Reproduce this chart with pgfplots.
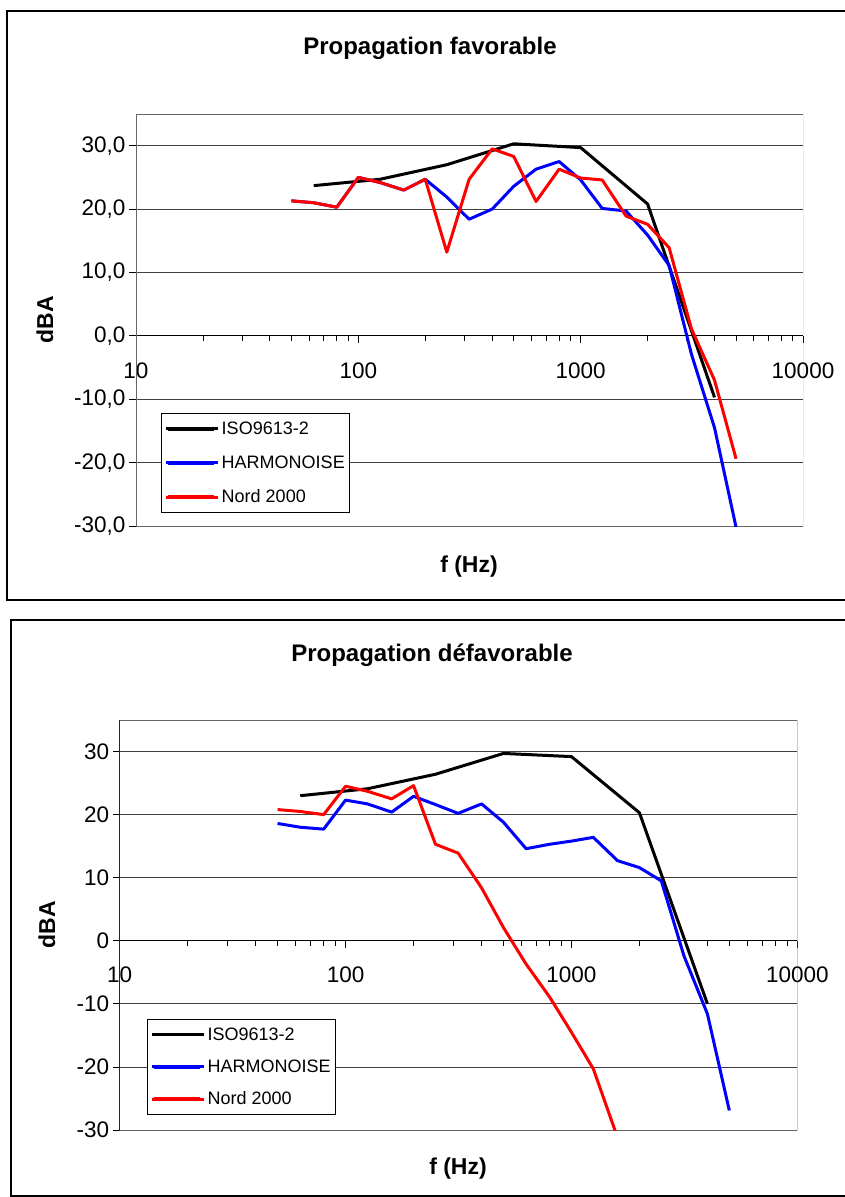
\documentclass[border=0pt]{standalone}
\usepackage{fontspec}
\setmainfont{Liberation Sans}
\usepackage{pgfplots}
\pgfplotsset{compat=1.18}
\usepackage{pgfplotstable}

% --- Propagation favorable ---
\pgfplotstableread{
f v
63 23.7
125 24.7
250 27.0
500 30.3
1000 29.7
2000 20.8
4000 -9.7
}\favISO
\pgfplotstableread{
f v
50 21.3
63 21.0
80 20.3
100 25.0
125 24.2
160 23.0
200 24.7
250 21.9
315 18.4
400 20.0
500 23.6
630 26.3
800 27.5
1000 24.6
1250 20.1
1600 19.7
2000 15.9
2500 11.1
3150 -2.9
4000 -14.5
5000 -30.2
}\favHARM
\pgfplotstableread{
f v
50 21.3
63 21.0
80 20.3
100 25.0
125 24.2
160 23.0
200 24.7
250 13.2
315 24.7
400 29.5
500 28.3
630 21.2
800 26.3
1000 24.9
1250 24.6
1600 18.9
2000 17.6
2500 13.9
3150 1.1
4000 -7.0
5000 -19.4
}\favNORD

% --- Propagation defavorable ---
\pgfplotstableread{
f v
63 23.0
125 24.1
250 26.4
500 29.7
1000 29.2
2000 20.3
4000 -10.0
}\defISO
\pgfplotstableread{
f v
50 18.6
63 18.0
80 17.7
100 22.3
125 21.7
160 20.4
200 22.9
250 21.6
315 20.2
400 21.7
500 18.8
630 14.6
800 15.3
1000 15.8
1250 16.4
1600 12.7
2000 11.6
2500 9.5
3150 -2.4
4000 -11.6
5000 -26.9
}\defHARM
\pgfplotstableread{
f v
50 20.8
63 20.5
80 20.0
100 24.5
125 23.7
160 22.5
200 24.6
250 15.3
315 13.9
400 8.4
500 2.1
630 -3.7
800 -8.9
1000 -14.5
1250 -20.3
1600 -31.2
}\defNORD

\pgfplotsset{
  every axis plot/.append style={line width=3pt, mark=none, line join=round},
  legend image code/.code={%
    \draw[#1, line width=3.5pt] (0pt,0pt) -- (46pt,0pt);
    \path (-2pt,0pt) -- (50pt,0pt);},
}

\begin{document}
\begin{tikzpicture}
\useasboundingbox (0pt,0pt) rectangle (845pt,-1197pt);
\fill[white] (0pt,0pt) rectangle (845pt,-1197pt);

% outer frames
\draw[black, line width=1.5pt] (7pt,-11pt) rectangle (852pt,-600pt);
\draw[black, line width=1.5pt] (11pt,-620pt) rectangle (852pt,-1196pt);

% ---------- top chart ----------
\begin{axis}[
  at={(136pt,-526pt)}, anchor=south west,
  scale only axis, width=667pt, height=412pt,
  xmode=log,
  xmin=10, xmax=10000, ymin=-30, ymax=35,
  axis x line=middle, axis y line=left,
  hide obscured x ticks=false,
  axis line style={-, black, line width=1pt},
  xtick={10,100,1000,10000},
  xticklabels={10,100,1000,10000},
  minor xtick={20,30,40,50,60,70,80,90,200,300,400,500,600,700,800,900,2000,3000,4000,5000,6000,7000,8000,9000},
  ytick={-30,-20,...,30},
  ymajorgrids,
  major grid style={black!75, line width=0.8pt},
  tick style={black, line width=0.8pt},
  tick align=outside,
  major tick length=7pt, minor tick length=5pt,
  ticklabel style={font=\fontsize{22.5}{27}\selectfont},
  xticklabel style={yshift=-16pt},
  yticklabel style={/pgf/number format/.cd, fixed, fixed zerofill, precision=1, use comma, assume math mode=true},
  legend cell align=left,
  legend style={draw=black, line width=0.8pt, anchor=north west, at={(0.038,0.2735)},
    font=\fontsize{18}{21}\selectfont, row sep=16pt, inner xsep=3pt, inner ysep=6pt},
]
\draw[black!60, line width=1pt] (rel axis cs:0,0) rectangle (rel axis cs:1,1);
\addplot[black] table[x=f, y=v] {\favISO};
\addplot[blue] table[x=f, y=v] {\favHARM};
\addplot[red] table[x=f, y=v] {\favNORD};
\legend{ISO9613-2, HARMONOISE, Nord 2000}
\end{axis}
\node[font=\bfseries\fontsize{24}{29}\selectfont] at (430pt,-48pt) {Propagation favorable};
\node[font=\bfseries\fontsize{23}{28}\selectfont] at (469pt,-567pt) {f (Hz)};
\node[font=\bfseries\fontsize{23}{28}\selectfont, rotate=90] at (45pt,-320pt) {dBA};

% ---------- bottom chart ----------
\begin{axis}[
  at={(119.7pt,-1130pt)}, anchor=south west,
  scale only axis, width=677.6pt, height=410pt,
  xmode=log,
  xmin=10, xmax=10000, ymin=-30, ymax=35,
  axis x line=middle, axis y line=left,
  hide obscured x ticks=false,
  axis line style={-, black, line width=1pt},
  xtick={10,100,1000,10000},
  xticklabels={10,100,1000,10000},
  minor xtick={20,30,40,50,60,70,80,90,200,300,400,500,600,700,800,900,2000,3000,4000,5000,6000,7000,8000,9000},
  ytick={-30,-20,...,30},
  ymajorgrids,
  major grid style={black!75, line width=0.8pt},
  tick style={black, line width=0.8pt},
  tick align=outside,
  major tick length=7pt, minor tick length=5pt,
  ticklabel style={font=\fontsize{22.5}{27}\selectfont},
  xticklabel style={yshift=-15pt},
  yticklabel style={/pgf/number format/.cd, fixed, precision=0, assume math mode=true},
  legend cell align=left,
  legend style={draw=black, line width=0.8pt, anchor=north west, at={(0.0407,0.27)},
    font=\fontsize{18}{21}\selectfont, row sep=14pt, inner xsep=3pt, inner ysep=6pt},
]
\draw[black!60, line width=1pt] (rel axis cs:0,0) rectangle (rel axis cs:1,1);
\addplot[black] table[x=f, y=v] {\defISO};
\addplot[blue] table[x=f, y=v] {\defHARM};
\addplot[red] table[x=f, y=v] {\defNORD};
\legend{ISO9613-2, HARMONOISE, Nord 2000}
\end{axis}
\node[font=\bfseries\fontsize{24}{29}\selectfont] at (432pt,-655pt) {Propagation défavorable};
\node[font=\bfseries\fontsize{23}{28}\selectfont] at (458pt,-1169pt) {f (Hz)};
\node[font=\bfseries\fontsize{23}{28}\selectfont, rotate=90] at (47pt,-925pt) {dBA};
\end{tikzpicture}
\end{document}
